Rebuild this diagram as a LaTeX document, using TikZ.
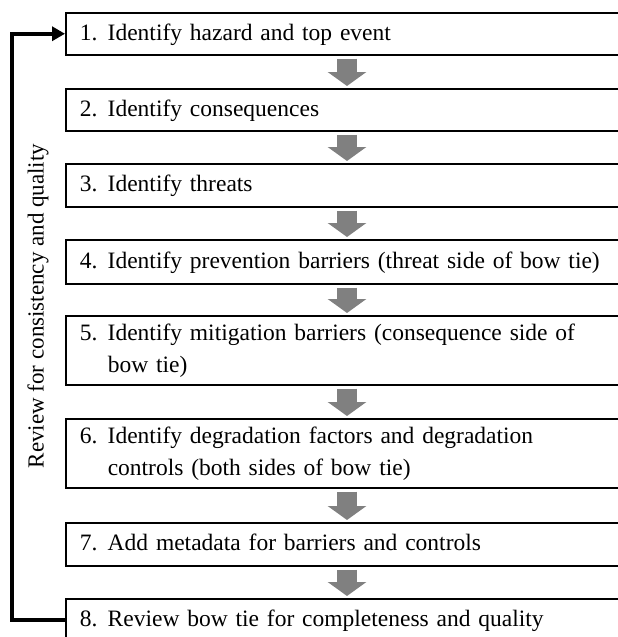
\documentclass[tikz,border=0pt]{standalone}
\usepackage{fontspec}
\setmainfont{Liberation Serif}
\usetikzlibrary{arrows.meta}

\definecolor{arrowgray}{RGB}{128,128,128}

% number column + text column inside each box
\newcommand{\stepline}[2]{\begin{tabular}{@{}p{28pt}@{}l@{}}#1&#2\end{tabular}}

\tikzset{
    stepbox/.style={draw, line width=1.5pt, anchor=north west, text width=585pt,
        inner xsep=14pt, inner ysep=0pt, align=left, minimum height=42pt,
        font=\fontsize{23.5}{32}\selectfont},
    flowarrow/.style={line width=20pt, draw=arrowgray,
        -{Triangle[length=14pt,width=38pt]}, shorten <=3pt, shorten >=2pt},
    loopline/.style={line width=4pt, -{Triangle[length=13pt,width=14pt]}},
}

\begin{document}
\begin{tikzpicture}[x=1pt,y=-1pt]
    \useasboundingbox (0,0) rectangle (618,637);

    % Steps
    \node[stepbox] (s1) at (65,12) {\stepline{1.}{Identify hazard and top event}};
    \node[stepbox] (s2) at (65,88) {\stepline{2.}{Identify consequences}};
    \node[stepbox, minimum height=43pt] (s3) at (65,163) {\stepline{3.}{Identify threats}};
    \node[stepbox, minimum height=44pt] (s4) at (65,239) {\stepline{4.}{Identify prevention barriers (threat side of bow tie)}};
    \node[stepbox, minimum height=69pt] (s5) at (65,315) {\stepline{5.}{Identify mitigation barriers (consequence side of\\ & bow tie)}};
    \node[stepbox, minimum height=69pt] (s6) at (65,418) {\stepline{6.}{Identify degradation factors and degradation\\ & controls (both sides of bow tie)}};
    \node[stepbox, minimum height=43pt] (s7) at (65,522) {\stepline{7.}{Add metadata for barriers and controls}};
    \node[stepbox] (s8) at (65,598) {\stepline{8.}{Review bow tie for completeness and quality}};

    % Flow between steps
    \coordinate (mid) at (347,0);
    \foreach \a/\b in {s1/s2,s2/s3,s3/s4,s4/s5,s5/s6,s6/s7,s7/s8}
        \draw[flowarrow] (\a.south -| mid) -- (\b.north -| mid);

    % Feedback loop
    \draw[loopline] (s8.west) -- ++(-53,0) |- (s1.west);
    \node[rotate=90, font=\fontsize{23}{28}\selectfont] (review) at (38,306) {Review for consistency and quality};
\end{tikzpicture}
\end{document}
